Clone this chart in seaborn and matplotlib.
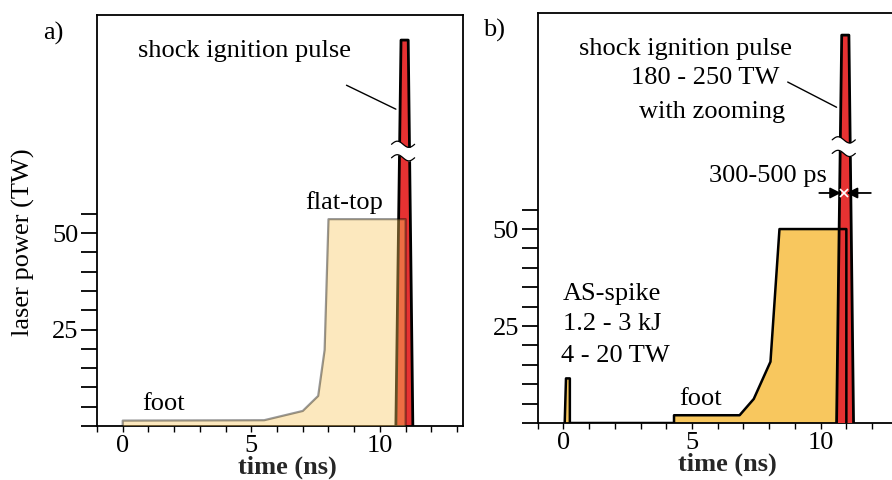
import numpy as np
import matplotlib
matplotlib.use("Agg")
import matplotlib.pyplot as plt
import seaborn as sns

# --- data (time in ns, power in TW) ---
# a) classic foot + flat-top drive
drive_a_t = [0.0, 0.0, 5.5, 7.0, 7.6, 7.85, 8.0, 11.0, 11.0]
drive_a_p = [0.0, 1.4, 1.5, 3.9, 7.8, 19.7, 53.6, 53.6, 0.0]

# b) AS-spike + foot + flat-top drive
drive_b_t = [0.05, 0.1, 0.25, 0.25, 4.3, 4.3, 6.85, 7.4, 8.05, 8.4, 11.0, 11.0]
drive_b_p = [0.0, 11.5, 11.5, 0.0, 0.0, 2.0, 2.0, 6.2, 15.8, 50.0, 50.0, 0.0]

# shock ignition pulse (drawn with a broken axis, top value is symbolic)
pulse_t = [10.62, 10.82, 11.1, 11.28]
pulse_p = [0.0, 100.0, 100.0, 0.0]
break_lo, break_hi = 69.5, 73.0

ytick_vals = list(range(0, 60, 5))
ytick_labels = ["25" if v == 25 else "50" if v == 50 else "" for v in ytick_vals]
xtick_vals = list(range(-1, 14))
xtick_labels = [str(v) if v in (0, 5, 10) else "" for v in xtick_vals]

RED = "#E63232"
YELLOW = "#F8C75E"

sns.set_theme(style="ticks")
plt.rcParams["font.family"] = ["Liberation Serif", "DejaVu Serif"]
plt.rcParams["text.color"] = "black"
plt.rcParams["axes.edgecolor"] = "black"
plt.rcParams["xtick.color"] = "black"
plt.rcParams["ytick.color"] = "black"

FS = 19

fig = plt.figure(figsize=(8.92, 4.80), dpi=100)
ax_a = fig.add_axes([97 / 892, 1 - 426 / 480, 366 / 892, 411 / 480])
ax_b = fig.add_axes([537.7 / 892, 1 - 423 / 480, 366 / 892, 410 / 480])


def style_axes(ax, ytop):
    ax.set_xlim(-1.0, 13.23)
    ax.set_ylim(0, ytop)
    ax.set_yticks(ytick_vals)
    ax.set_yticklabels(ytick_labels)
    ax.set_xticks(xtick_vals)
    ax.set_xticklabels(xtick_labels)
    for s in ax.spines.values():
        s.set_linewidth(1.3)
    ax.tick_params(axis="y", length=11.5, width=1.3, pad=2, labelsize=FS)
    ax.tick_params(axis="x", length=4.3, width=1.0, pad=2, labelsize=FS)
    ax.set_xlabel("time (ns)", fontsize=FS, fontweight="bold")
    ax.xaxis.set_label_coords(0.519, -0.072)


def draw_break(ax, z):
    xs = np.linspace(10.45, 11.35, 60)
    w = 0.8 * np.sin(2 * np.pi * (xs - xs[0]) / (xs[-1] - xs[0]))
    ax.fill_between(xs, break_lo + w, break_hi + w, color="white", lw=0, zorder=z)
    ax.plot(xs, break_lo + w, color="black", lw=0.9, zorder=z + 1)
    ax.plot(xs, break_hi + w, color="black", lw=0.9, zorder=z + 1)


# ---------------- panel a ----------------
ax = ax_a
ax.fill(pulse_t, pulse_p, color=RED, lw=0, zorder=2)
sns.lineplot(x=pulse_t, y=pulse_p, sort=False, estimator=None, color="black",
             lw=2.0, ax=ax, zorder=2.5)
ax.fill(drive_a_t, drive_a_p, color=YELLOW, alpha=0.4, lw=0, zorder=3)
sns.lineplot(x=drive_a_t, y=drive_a_p, sort=False, estimator=None, color="black",
             alpha=0.4, lw=1.6, ax=ax, zorder=3.5)
draw_break(ax, 4)
style_axes(ax, 106.5)

ax.text(4.75, 97.2, "shock ignition pulse", fontsize=FS, ha="center", va="center")
ax.plot([8.7, 10.62], [88.3, 82.1], color="black", lw=1.0)
ax.text(8.6, 57.8, "flat-top", fontsize=FS, ha="center", va="center")
ax.text(1.6, 5.8, "foot", fontsize=FS, ha="center", va="center")

# ---------------- panel b ----------------
ax = ax_b
ax.fill(drive_b_t, drive_b_p, color=YELLOW, lw=0, zorder=2)
ax.fill(pulse_t, pulse_p, color=RED, lw=0, zorder=3)
sns.lineplot(x=pulse_t, y=pulse_p, sort=False, estimator=None, color="black",
             lw=2.0, ax=ax, zorder=3.5)
sns.lineplot(x=drive_b_t, y=drive_b_p, sort=False, estimator=None, color="black",
             lw=1.8, ax=ax, zorder=4)
draw_break(ax, 5)
style_axes(ax, 105.7)

ax.text(4.75, 96.4, "shock ignition pulse", fontsize=FS, ha="center", va="center")
ax.text(5.53, 88.9, "180 - 250 TW", fontsize=FS, ha="center", va="center")
ax.text(5.76, 80.1, "with zooming", fontsize=FS, ha="center", va="center")
ax.plot([8.72, 10.62], [87.9, 81.4], color="black", lw=1.0)

ax.text(7.94, 63.7, "300-500 ps", fontsize=FS, ha="center", va="center")
ax.annotate("", xy=(10.9, 59.3), xytext=(9.84, 59.3),
            arrowprops=dict(arrowstyle="-|>", color="black", lw=1.3, mutation_scale=16),
            zorder=6)
ax.annotate("", xy=(10.9, 59.3), xytext=(12.06, 59.3),
            arrowprops=dict(arrowstyle="-|>", color="black", lw=1.3, mutation_scale=16),
            zorder=6)
ax.plot(10.9, 59.3, marker="x", color="white", ms=6, mew=1.2, zorder=7)

ax.text(-0.01, 33.2, "AS-spike", fontsize=FS, ha="left", va="center")
ax.text(-0.01, 25.5, "1.2 - 3 kJ", fontsize=FS, ha="left", va="center")
ax.text(-0.09, 17.3, "4 - 20 TW", fontsize=FS, ha="left", va="center")
ax.text(5.33, 6.3, "foot", fontsize=FS, ha="center", va="center")

# ---------------- figure labels ----------------
fig.text(23 / 892, 1 - 242 / 480, "laser power (TW)", rotation=90,
         ha="center", va="center", fontsize=FS)
fig.text(43 / 892, 1 - 33 / 480, "a)", fontsize=FS, ha="left", va="center")
fig.text(483 / 892, 1 - 30 / 480, "b)", fontsize=FS, ha="left", va="center")

fig.savefig("out.png", dpi=100)
